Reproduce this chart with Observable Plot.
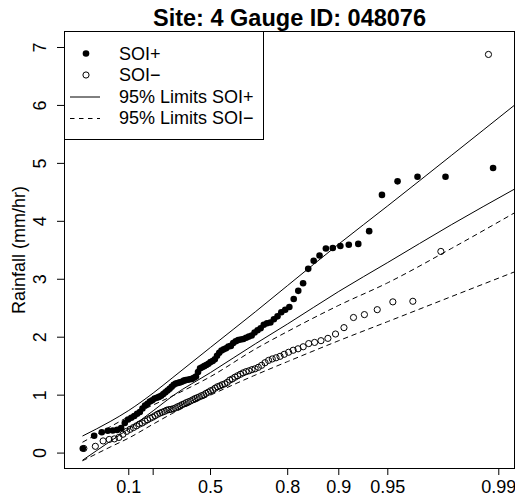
<!DOCTYPE html>
<html><head><meta charset="utf-8">
<script src="https://cdn.jsdelivr.net/npm/d3@7"></script>
<script src="https://cdn.jsdelivr.net/npm/@observablehq/plot@0.6"></script>
<style>
html,body{margin:0;padding:0;background:#fff;}
#wrap{position:relative;width:515px;height:499px;font-family:"Liberation Sans",Arial,Helvetica,sans-serif;}
#wrap svg{display:block;}
#legend{position:absolute;left:0;top:0;pointer-events:none;}
</style></head><body><div id="wrap"></div>
<script>
const title = "Site: 4 Gauge ID: 048076";
const yLabel = "Rainfall (mm/hr)";

// Sorted rainfall values (mm/hr)
const soiPlus = [0.08,0.30,0.36,0.385,0.39,0.40,0.43,0.52,0.58,0.61,
  0.64,0.68,0.71,0.77,0.82,0.85,0.89,0.91,0.94,0.955,
  0.97,0.99,1.02,1.05,1.08,1.11,1.145,1.18,1.20,1.21,
  1.22,1.23,1.25,1.26,1.265,1.275,1.28,1.30,1.32,1.40,
  1.465,1.48,1.50,1.52,1.54,1.57,1.59,1.62,1.68,1.73,
  1.77,1.79,1.81,1.84,1.85,1.90,1.93,1.95,1.96,1.97,
  1.99,2.01,2.03,2.08,2.12,2.155,2.215,2.24,2.255,2.31,
  2.36,2.43,2.475,2.52,2.66,2.80,2.93,3.18,3.32,3.41,
  3.53,3.54,3.575,3.595,3.61,3.83,4.456,4.69,4.77,4.77,4.92];
const soiMinus = [0.08,0.117,0.21,0.235,0.245,0.27,0.325,0.375,0.41,0.44,
  0.47,0.50,0.52,0.55,0.575,0.60,0.62,0.645,0.67,0.69,
  0.705,0.72,0.74,0.75,0.755,0.765,0.78,0.80,0.815,0.835,
  0.85,0.87,0.885,0.90,0.92,0.94,0.955,0.97,0.99,1.005,
  1.03,1.05,1.075,1.09,1.12,1.145,1.16,1.18,1.195,1.22,
  1.26,1.28,1.31,1.335,1.36,1.385,1.405,1.42,1.44,1.455,
  1.48,1.515,1.56,1.60,1.625,1.645,1.67,1.705,1.74,1.775,
  1.80,1.835,1.89,1.91,1.94,1.98,2.055,2.165,2.34,2.39,
  2.475,2.61,2.62,3.48,6.88];

// 95% limit curves, sampled at these non-exceedance probabilities
const limitP     = [0.01087,0.05,0.1,0.2,0.3,0.5,0.7,0.8,0.9,0.95,0.98,0.9921];
const plusUpper  = [0.297,0.551,0.736,1.036,1.306,1.824,2.444,2.893,3.608,4.268,5.135,6.01];
const plusLower  = [-0.12,0.21,0.42,0.73,0.99,1.39,1.89,2.23,2.79,3.29,3.94,4.56];
const minusUpper = [0.19,0.46,0.63,0.83,0.99,1.32,1.80,2.10,2.55,2.94,3.53,4.15];
const minusLower = [-0.13,0.11,0.26,0.50,0.69,1.00,1.35,1.58,1.94,2.27,2.70,3.13];

const xTicks = [0.1,0.2,0.5,0.8,0.9,0.95,0.99];
const xTickLabels = ["0.1","","0.5","0.8","0.9","0.95","0.99"];
const yTicks = [0,1,2,3,4,5,6,7];
const legendLabels = ["SOI+","SOI\u2212","95% Limits SOI+","95% Limits SOI\u2212"];

const gumbel = p => -Math.log(-Math.log(p));
const pts = vals => vals.map((v,i) => ({g: gumbel((i+1)/(vals.length+1)), v}));
const lim = vals => vals.map((v,i) => ({g: gumbel(limitP[i]), v}));

const FONT = '"Liberation Sans",Arial,Helvetica,sans-serif';
const FS = 18;

const plot = Plot.plot({
  width: 515, height: 499,
  marginLeft: 64, marginRight: 1, marginTop: 31, marginBottom: 31,
  x: {domain: [-1.778, 4.831]},
  y: {domain: [-0.266, 7.276]},
  style: {fontFamily: FONT, fontSize: FS + "px", background: "white", color: "black", overflow: "visible"},
  marks: [
    Plot.axisX({ticks: xTicks.map(gumbel), tickSize: 7, fill: "none", label: null}),
    Plot.axisY({ticks: yTicks, tickSize: 7, fill: "none", label: null}),
    Plot.text(xTicks, {x: gumbel, text: (d,i) => xTickLabels[i], frameAnchor: "bottom", lineAnchor: "middle", textAnchor: "middle", dy: 19, fontSize: FS}),
    Plot.text(yTicks, {y: d => d, text: d => String(d), frameAnchor: "left", lineAnchor: "middle", textAnchor: "middle", dx: -24, rotate: -90, fontSize: FS}),
    Plot.text([yLabel], {text: d => d, frameAnchor: "left", lineAnchor: "middle", textAnchor: "middle", dx: -45, rotate: -90, fontSize: FS}),
    Plot.text([title], {text: d => d, frameAnchor: "top", lineAnchor: "middle", textAnchor: "middle", dy: -13, fontSize: 23.5, fontWeight: "bold"}),
    Plot.line(lim(plusUpper), {x: "g", y: "v", stroke: "black", strokeWidth: 1, curve: "monotone-x", clip: true}),
    Plot.line(lim(plusLower), {x: "g", y: "v", stroke: "black", strokeWidth: 1, curve: "monotone-x", clip: true}),
    Plot.line(lim(minusUpper), {x: "g", y: "v", stroke: "black", strokeWidth: 1, strokeDasharray: "4.5,4.5", curve: "monotone-x", clip: true}),
    Plot.line(lim(minusLower), {x: "g", y: "v", stroke: "black", strokeWidth: 1, strokeDasharray: "4.5,4.5", curve: "monotone-x", clip: true}),
    Plot.dot(pts(soiPlus), {x: "g", y: "v", r: 3.3, fill: "black", stroke: null}),
    Plot.dot(pts(soiMinus), {x: "g", y: "v", r: 3.1, fill: "none", stroke: "black", strokeWidth: 1}),
    Plot.frame({stroke: "black", strokeWidth: 1})
  ]
});
const wrap = document.getElementById("wrap");
wrap.appendChild(plot);

// Legend box (top-left inside the panel)
const lg = d3.select(wrap).append("svg").attr("id","legend").attr("width",515).attr("height",499)
  .style("font-family", FONT).style("font-size", FS + "px");
lg.append("rect").attr("x",64.5).attr("y",31.5).attr("width",199).attr("height",108)
  .attr("fill","white").attr("stroke","black");
const rowY = i => 53.5 + i*21.5;
legendLabels.forEach((lab,i) => {
  const y = rowY(i);
  if (i === 0) lg.append("circle").attr("cx",86).attr("cy",y).attr("r",3.3).attr("fill","black");
  if (i === 1) lg.append("circle").attr("cx",86).attr("cy",y).attr("r",3.1).attr("fill","none").attr("stroke","black");
  if (i >= 2) lg.append("line").attr("x1",70).attr("x2",100).attr("y1",y+0.5).attr("y2",y+0.5)
    .attr("stroke","black").attr("stroke-dasharray", i === 3 ? "4.5,4.5" : null);
  lg.append("text").attr("x",119).attr("y",y).attr("dy","0.35em").text(lab);
});
</script></body></html>
